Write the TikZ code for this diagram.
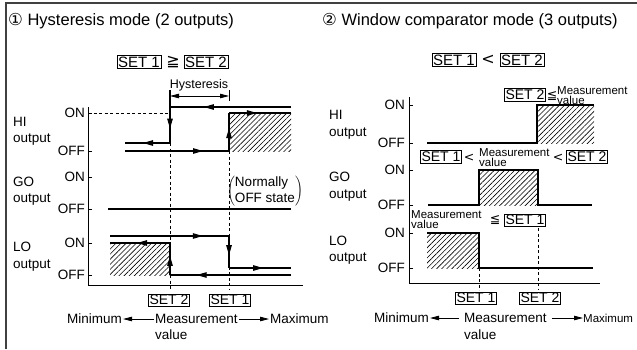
\documentclass[tikz,border=0pt]{standalone}
\usepackage{fontspec}
\setmainfont{Liberation Sans}
\newfontfamily\symfont{DejaVu Sans}
\usetikzlibrary{arrows.meta,patterns.meta,calc,positioning}
\tikzset{
  lbl/.style={font=\fontsize{13.5}{16.5}\selectfont, inner sep=1pt, align=left},
  smalltxt/.style={font=\fontsize{11.5}{10}\selectfont, inner sep=0pt, align=left},
  ttl/.style={font=\fontsize{16.5}{18}\selectfont, inner sep=0pt, anchor=west},
  symb/.style={font=\symfont\fontsize{14}{14}\selectfont, inner sep=0pt},
  setbox/.style={draw, line width=0.7pt, font=\fontsize{14}{14}\selectfont, inner sep=1.2pt},
  bigbox/.style={setbox, font=\fontsize{15}{15}\selectfont},
  hatch/.style={pattern={Lines[angle=45,distance=3.6pt,line width=0.6pt]}},
  sig/.style={line width=1.1pt},
  guide/.style={line width=0.7pt, dash pattern=on 3pt off 2.5pt},
  headtip/.style={-{Triangle[length=10pt,width=5.5pt]}},
  dimarrow/.style={-{Triangle[length=9pt,width=4.5pt]}, line width=0.8pt}
}
% signal segment with an arrowhead part way along it
\newcommand\sigarrow[3][0.5]{%
  \draw[sig] (#2) -- (#3);
  \draw[sig, headtip] (#2) -- ($(#2)!#1!(#3)$);}
\begin{document}
\begin{tikzpicture}[x=1pt,y=-1pt]
  \useasboundingbox (0,0) rectangle (637,349);
  \draw[line width=1.2pt, black!75] (6,349) -- (6,3) -- (637,3);

  % hysteresis mode
  \node[ttl] (ttlA) at (8,21) {{\symfont ①} Hysteresis mode (2 outputs)};
  \node[bigbox] (topA1) at (139,62) {SET 1};
  \node[symb, font=\symfont\fontsize{16}{16}\selectfont] (topAge) at (173,62) {≧};
  \node[bigbox] (topA2) at (206,62) {SET 2};
  \node[lbl, font=\fontsize{12.5}{13}\selectfont] (hyst) at (199,85) {Hysteresis};
  \draw[line width=0.8pt] (229,90) -- (229,101);
  \draw[dimarrow] (199,96) -- (170,96);
  \draw[dimarrow] (199,96) -- (229,96);

  \draw[line width=0.9pt] (88,107) -- (88,285) -- (303,285);
  \foreach \y/\t in {113/ON,151/OFF,177/ON,209/OFF,243/ON,275/OFF}{
    \draw[line width=0.9pt] (88,\y) -- (92,\y);
    \node[lbl, anchor=east] (levA\y) at (86,\y) {\t};
  }
  \node[lbl, anchor=west] (hiA) at (12,131.5) {HI\\output};
  \node[lbl, anchor=west] (goA) at (12,191) {GO\\output};
  \node[lbl, anchor=west] (loA) at (12,256.5) {LO\\output};

  \draw[guide] (88,113) -- (170,113);
  \draw[guide] (170,143) -- (170,290);
  \draw[guide] (229,151) -- (229,290);
  \fill[hatch] (229,113) rectangle (291,151);
  \draw[sig] (170,90) -- (170,107);
  \sigarrow[0.72]{291,107}{170,107}
  \sigarrow[0.6]{170,107}{170,143}
  \sigarrow[0.6]{170,143}{125,143}
  \sigarrow[0.75]{125,151}{229,151}
  \sigarrow[0.6]{229,151}{229,113}
  \sigarrow[0.45]{229,113}{291,113}

  \node[lbl] (normoff) at (265,191)
    {$\left(\vcenter{\hbox{\begin{tabular}{@{}l@{}}Normally\\OFF state\end{tabular}}}\right)$};
  \draw[sig] (108,209) -- (291,209);

  \fill[hatch] (110,243) rectangle (170,275);
  \sigarrow[0.78]{110,236}{229,236}
  \sigarrow[0.6]{229,236}{229,268}
  \sigarrow[0.55]{229,268}{291,268}
  \sigarrow[0.78]{291,275}{170,275}
  \sigarrow[0.6]{170,275}{170,243}
  \sigarrow[0.55]{170,243}{110,243}

  \node[setbox] (botA2) at (169,300) {SET 2};
  \node[setbox] (botA1) at (230,300) {SET 1};
  \node[lbl, anchor=west] (measA) at (154,319) {Measurement};
  \node[lbl, anchor=west] (valA) at (154,335) {value};
  \node[lbl, anchor=east] (minA) at (123,319) {Minimum};
  \node[lbl, anchor=west] (maxA) at (269,319) {Maximum};
  \draw[dimarrow] (measA.west) -- (minA.east);
  \draw[dimarrow] (measA.east) -- (maxA.west);

  % window comparator mode
  \node[ttl] (ttlB) at (322,21) {{\symfont ②} Window comparator mode (3 outputs)};
  \node[bigbox] (topB1) at (454,60) {SET 1};
  \node[symb, font=\symfont\fontsize{16}{16}\selectfont] (topBlt) at (488,60) {<};
  \node[bigbox] (topB2) at (522,60) {SET 2};

  \draw[line width=0.9pt] (409,97) -- (409,283) -- (600,283);
  \foreach \y/\t in {105/ON,143/OFF,170/ON,205/OFF,233/ON,268/OFF}{
    \draw[line width=0.9pt] (409,\y) -- (413,\y);
    \node[lbl, anchor=east] (levB\y) at (406,\y) {\t};
  }
  \node[lbl, anchor=west] (hiB) at (328,125) {HI\\output};
  \node[lbl, anchor=west] (goB) at (328,186.5) {GO\\output};
  \node[lbl, anchor=west] (loB) at (328,250) {LO\\output};

  \node[setbox] (hiB2) at (525,95) {SET 2};
  \node[symb, font=\symfont\fontsize{12.5}{12}\selectfont] (hiBle) at (552,96) {≦};
  \node[smalltxt, anchor=west] (hiBmeas) at (557,96) {Measurement\\value};
  \fill[hatch] (537,105) rectangle (594,143);
  \draw[sig] (427,143) -- (537,143) -- (537,105) -- (594,105);

  \node[setbox] (goB1) at (441,157) {SET 1};
  \node[symb, font=\symfont\fontsize{12.5}{12}\selectfont] (goBlt1) at (469,158) {<};
  \node[smalltxt, anchor=west] (goBmeas) at (479,158) {Measurement\\value};
  \node[symb, font=\symfont\fontsize{12.5}{12}\selectfont] (goBlt2) at (558,158) {<};
  \node[setbox] (goB2) at (587,157) {SET 2};
  \fill[hatch] (479,170) rectangle (538,205);
  \draw[sig] (428,205) -- (479,205) -- (479,170) -- (538,170) -- (538,205) -- (592,205);

  \node[smalltxt, anchor=west] (loBmeas) at (411,220) {Measurement\\value};
  \node[symb, font=\symfont\fontsize{12.5}{12}\selectfont] (loBle) at (495,220) {≦};
  \node[setbox] (loB1) at (525,220) {SET 1};
  \fill[hatch] (427,233) rectangle (479,268);
  \draw[sig] (427,233) -- (479,233) -- (479,268) -- (593,268);
  \draw[guide] (479,268) -- (479,290);
  \draw[guide] (538,228) -- (538,290);

  \node[setbox] (botB1) at (476,298) {SET 1};
  \node[setbox] (botB2) at (540,298) {SET 2};
  \node[lbl, anchor=west] (measB) at (463,318) {Measurement};
  \node[lbl, anchor=west] (valB) at (463,335) {value};
  \node[lbl, anchor=east] (minB) at (430,318) {Minimum};
  \node[smalltxt, anchor=west] (maxB) at (583,318) {Maximum};
  \draw[dimarrow, shorten <=4pt] (measB.west) -- (minB.east);
  \draw[dimarrow, shorten <=4pt] (measB.east) -- (maxB.west);
\end{tikzpicture}
\end{document}
